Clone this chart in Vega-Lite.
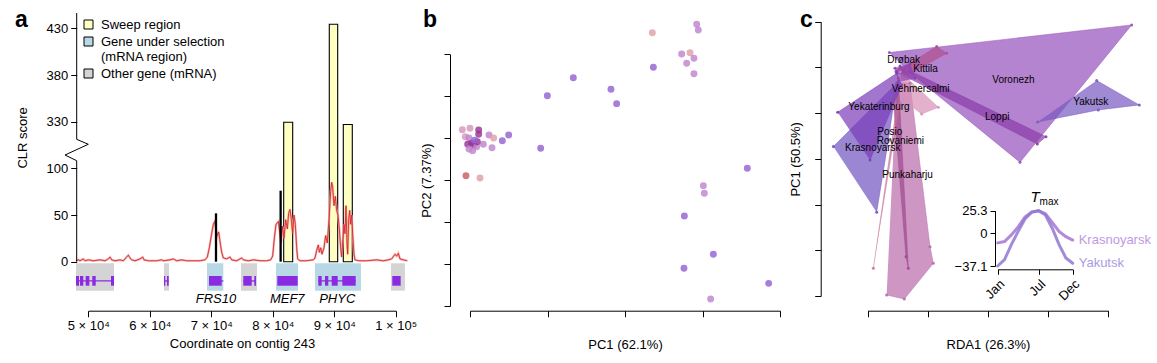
{
 "$schema": "https://vega.github.io/schema/vega-lite/v6.json",
 "width": 1157, "height": 363, "autosize": {"type": "none"}, "padding": 0,
 "background": "white",
 "config": {
  "view": {"stroke": null},
  "axis": {"grid": false, "labelFont": "Liberation Sans, Arial, DejaVu Sans", "titleFont": "Liberation Sans, Arial", "labelFontSize": 13, "titleFontSize": 13, "titleFontWeight": "normal", "labelColor": "black", "titleColor": "black", "domainColor": "black", "tickColor": "black", "tickSize": 6, "labelPadding": 3, "labelFlush": false, "labelOverlap": false},
  "text": {"font": "Liberation Sans, Arial"}
 },
 "resolve": {"scale": {"x": "independent", "y": "independent", "fill": "independent", "color": "independent", "stroke": "independent"}, "axis": {"x": "independent", "y": "independent"}, "legend": {"fill": "independent", "color": "independent", "stroke": "independent"}},
 "layer": [
  {
   "data": {"values": [
    {"g": "g1", "kind": "Other gene (mRNA)", "s": 48000, "e": 54181},
    {"g": "g2", "kind": "Other gene (mRNA)", "s": 62313, "e": 63126},
    {"g": "FRS10", "kind": "Gene under selection", "s": 69307, "e": 71958},
    {"g": "g4", "kind": "Other gene (mRNA)", "s": 74837, "e": 77439},
    {"g": "MEF7", "kind": "Gene under selection", "s": 80529, "e": 84107},
    {"g": "PHYC", "kind": "Gene under selection", "s": 86866, "e": 94348},
    {"g": "g7", "kind": "Other gene (mRNA)", "s": 99228, "e": 101505}
   ]},
   "mark": {"type": "rect"},
   "encoding": {
    "x": {"field": "s", "type": "quantitative", "scale": {"domain": [50000, 100000], "range": [88.3, 395.7], "nice": false, "zero": false},
     "axis": {"orient": "bottom", "offset": -52.3, "values": [50000, 60000, 70000, 80000, 90000, 100000], "labelExpr": "datum.value == 100000 ? '1 × 10⁵' : (datum.value/10000) + ' × 10⁴'", "title": "Coordinate on contig 243", "titlePadding": 5}},
    "x2": {"field": "e"},
    "y": {"datum": -1.7, "type": "quantitative", "scale": {"domain": [0, 100, 330, 446.4], "range": [261.7, 168.3, 121.7, 13], "nice": false, "zero": false},
     "axis": {"orient": "left", "offset": -76.7, "values": [0, 50, 100, 330, 380, 430], "domain": false, "title": "CLR score", "titlePadding": 17}},
    "y2": {"datum": -31},
    "fill": {"field": "kind", "type": "nominal", "scale": {"domain": ["Sweep region", "Gene under selection", "Other gene (mRNA)"], "range": ["#ffffc2", "#b8d8e6", "#d4d4d4"]}, "legend": null}
   }
  },
  {
   "data": {"values": [
    {"s": 48000, "e": 54181}, {"s": 62313, "e": 63077}, {"s": 69632, "e": 71958}, {"s": 75211, "e": 77276}, {"s": 87409, "e": 93492}
   ]},
   "mark": {"type": "rule", "color": "#8a2be2", "strokeWidth": 1.3},
   "encoding": {
    "x": {"field": "s", "type": "quantitative", "scale": {"domain": [50000, 100000], "range": [88.3, 395.7], "nice": false, "zero": false}, "axis": null},
    "x2": {"field": "e"},
    "y": {"datum": -20.6, "type": "quantitative", "scale": {"domain": [0, 100, 330, 446.4], "range": [261.7, 168.3, 121.7, 13], "nice": false, "zero": false}, "axis": null}
   }
  },
  {
   "data": {"values": [
    {"s": 48000, "e": 48488}, {"s": 48650, "e": 49187}, {"s": 49577, "e": 50163}, {"s": 50651, "e": 51204}, {"s": 53692, "e": 54181},
    {"s": 62313, "e": 62524}, {"s": 62801, "e": 63077},
    {"s": 69632, "e": 71697},
    {"s": 75211, "e": 76577}, {"s": 76999, "e": 77276},
    {"s": 80741, "e": 84059},
    {"s": 87409, "e": 87962}, {"s": 88500, "e": 89036}, {"s": 89589, "e": 90565}, {"s": 91313, "e": 93492},
    {"s": 99445, "e": 100811}
   ]},
   "mark": {"type": "rect", "color": "#8a2be2"},
   "encoding": {
    "x": {"field": "s", "type": "quantitative", "scale": {"domain": [50000, 100000], "range": [88.3, 395.7], "nice": false, "zero": false}, "axis": null},
    "x2": {"field": "e"},
    "y": {"datum": -15.3, "type": "quantitative", "scale": {"domain": [0, 100, 330, 446.4], "range": [261.7, 168.3, 121.7, 13], "nice": false, "zero": false}, "axis": null},
    "y2": {"datum": -25.7}
   }
  },
  {
   "data": {"values": [
    {"kind": "Sweep region", "s": 81782, "e": 83245, "clr": 327.2},
    {"kind": "Sweep region", "s": 89198, "e": 90565, "clr": 434.3},
    {"kind": "Sweep region", "s": 91476, "e": 92940, "clr": 316.5}
   ]},
   "mark": {"type": "rect", "stroke": "black", "strokeWidth": 1.1},
   "encoding": {
    "x": {"field": "s", "type": "quantitative", "scale": {"domain": [50000, 100000], "range": [88.3, 395.7], "nice": false, "zero": false}, "axis": null},
    "x2": {"field": "e"},
    "y": {"field": "clr", "type": "quantitative", "scale": {"domain": [0, 100, 330, 446.4], "range": [261.7, 168.3, 121.7, 13], "nice": false, "zero": false}, "axis": null},
    "y2": {"datum": 0},
    "fill": {"field": "kind", "type": "nominal", "scale": {"domain": ["Sweep region", "Gene under selection", "Other gene (mRNA)"], "range": ["#ffffc2", "#b8d8e6", "#d4d4d4"]},
     "legend": {"orient": "none", "legendX": 82, "legendY": 18, "title": null, "symbolType": "square", "symbolSize": 81, "symbolStrokeColor": "black", "symbolStrokeWidth": 1, "labelFont": "Liberation Sans, Arial", "labelFontSize": 13, "labelColor": "black", "labelOffset": 6, "rowPadding": 3, "padding": 0, "labelLimit": 0,
      "labelExpr": "datum.label == 'Gene under selection' ? ['Gene under selection', '(mRNA region)'] : datum.label"}}
   }
  },
  {
   "data": {"name": "clr"},
   "mark": {"type": "line", "color": "#f2a2a2", "strokeWidth": 2.2, "opacity": 0.85},
   "encoding": {
    "x": {"field": "pos", "type": "quantitative", "scale": {"domain": [50000, 100000], "range": [88.3, 395.7], "nice": false, "zero": false}, "axis": null},
    "y": {"field": "clr", "type": "quantitative", "scale": {"domain": [0, 100, 330, 446.4], "range": [261.7, 168.3, 121.7, 13], "nice": false, "zero": false}, "axis": null}
   }
  },
  {
   "data": {"name": "clr"},
   "mark": {"type": "line", "color": "#d81c1c", "strokeWidth": 0.8},
   "encoding": {
    "x": {"field": "pos", "type": "quantitative", "scale": {"domain": [50000, 100000], "range": [88.3, 395.7], "nice": false, "zero": false}, "axis": null},
    "y": {"field": "clr", "type": "quantitative", "scale": {"domain": [0, 100, 330, 446.4], "range": [261.7, 168.3, 121.7, 13], "nice": false, "zero": false}, "axis": null}
   }
  },
  {
   "data": {"values": [{"pos": 70770, "clr": 51.8}, {"pos": 81284, "clr": 76}]},
   "mark": {"type": "rule", "color": "black", "strokeWidth": 2.3},
   "encoding": {
    "x": {"field": "pos", "type": "quantitative", "scale": {"domain": [50000, 100000], "range": [88.3, 395.7], "nice": false, "zero": false}, "axis": null},
    "y": {"field": "clr", "type": "quantitative", "scale": {"domain": [0, 100, 330, 446.4], "range": [261.7, 168.3, 121.7, 13], "nice": false, "zero": false}, "axis": null},
    "y2": {"datum": 0}
   }
  },
  {
   "data": {"values": [
    {"i": 0, "pos": 48113, "clr": 0}, {"i": 1, "pos": 48113, "clr": 137.5}, {"i": 2, "pos": 46210, "clr": 165.6},
    {"i": 3, "pos": 50000, "clr": 218.5}, {"i": 4, "pos": 48113, "clr": 243.1}, {"i": 5, "pos": 48113, "clr": 446.4}
   ]},
   "mark": {"type": "line", "color": "black", "strokeWidth": 1},
   "encoding": {
    "x": {"field": "pos", "type": "quantitative", "scale": {"domain": [50000, 100000], "range": [88.3, 395.7], "nice": false, "zero": false}, "axis": null},
    "y": {"field": "clr", "type": "quantitative", "scale": {"domain": [0, 100, 330, 446.4], "range": [261.7, 168.3, 121.7, 13], "nice": false, "zero": false}, "axis": null},
    "order": {"field": "i"}
   }
  },
  {
   "data": {"values": [{"name": "FRS10", "pos": 70764}, {"name": "MEF7", "pos": 82357}, {"name": "PHYC", "pos": 90487}]},
   "mark": {"type": "text", "fontSize": 13, "fontStyle": "italic", "baseline": "middle", "color": "black"},
   "encoding": {
    "x": {"field": "pos", "type": "quantitative", "scale": {"domain": [50000, 100000], "range": [88.3, 395.7], "nice": false, "zero": false}, "axis": null},
    "y": {"datum": -40, "type": "quantitative", "scale": {"domain": [0, 100, 330, 446.4], "range": [261.7, 168.3, 121.7, 13], "nice": false, "zero": false}, "axis": null},
    "text": {"field": "name"}
   }
  },
  {
   "data": {"values": [{"letter": "a"}]},
   "mark": {"type": "text", "fontSize": 23, "fontWeight": "bold", "align": "left", "baseline": "alphabetic", "color": "black"},
   "encoding": {
    "x": {"datum": 38078, "type": "quantitative", "scale": {"domain": [50000, 100000], "range": [88.3, 395.7], "nice": false, "zero": false}, "axis": null},
    "y": {"datum": 431.4, "type": "quantitative", "scale": {"domain": [0, 100, 330, 446.4], "range": [261.7, 168.3, 121.7, 13], "nice": false, "zero": false}, "axis": null},
    "text": {"field": "letter"}
   }
  },
  {
   "data": {"values": [
    {"x": 2.353, "y": 6.515, "g": "S"}, {"x": 2.925, "y": 6.715, "g": "M"}, {"x": 2.946, "y": 6.579, "g": "M"},
    {"x": 2.366, "y": 5.690, "g": "P"}, {"x": 2.731, "y": 6.007, "g": "M"}, {"x": 2.839, "y": 6.038, "g": "S"},
    {"x": 2.890, "y": 5.905, "g": "M"}, {"x": 2.796, "y": 5.785, "g": "M"}, {"x": 2.890, "y": 5.538, "g": "M"},
    {"x": 1.333, "y": 5.443, "g": "P"}, {"x": 0.998, "y": 5.014, "g": "P"}, {"x": 1.819, "y": 5.165, "g": "P"},
    {"x": 1.892, "y": 4.824, "g": "P"}, {"x": 0.912, "y": 3.759, "g": "P"}, {"x": 0.499, "y": 4.076, "g": "P"},
    {"x": 0.417, "y": 3.941, "g": "P"}, {"x": 0.245, "y": 4.076, "g": "M"}, {"x": 0.305, "y": 4.005, "g": "S"},
    {"x": 0.284, "y": 3.774, "g": "M"}, {"x": 0.172, "y": 3.855, "g": "M"}, {"x": -0.099, "y": 4.203, "g": "K"},
    {"x": 0.0, "y": 4.236, "g": "K"}, {"x": 0.112, "y": 4.196, "g": "D"}, {"x": 0.112, "y": 4.093, "g": "D"},
    {"x": -0.060, "y": 4.036, "g": "K"}, {"x": -0.013, "y": 4.005, "g": "M"}, {"x": 0.022, "y": 3.878, "g": "D"},
    {"x": 0.043, "y": 3.838, "g": "D"}, {"x": -0.030, "y": 3.855, "g": "D"}, {"x": 0.086, "y": 3.798, "g": "M"},
    {"x": -0.013, "y": 3.743, "g": "M"}, {"x": 0.034, "y": 3.703, "g": "M"}, {"x": 0.095, "y": 3.917, "g": "D"},
    {"x": 0.060, "y": 3.950, "g": "P"}, {"x": -0.052, "y": 3.107, "g": "R"}, {"x": 0.129, "y": 3.051, "g": "S"},
    {"x": 3.578, "y": 3.282, "g": "P"}, {"x": 3.011, "y": 2.869, "g": "M"}, {"x": 3.024, "y": 2.686, "g": "M"},
    {"x": 2.766, "y": 2.145, "g": "P"}, {"x": 3.140, "y": 1.232, "g": "P"}, {"x": 2.761, "y": 0.898, "g": "P"},
    {"x": 3.854, "y": 0.540, "g": "P"}, {"x": 3.105, "y": 0.167, "g": "M"}
   ]},
   "mark": {"type": "circle", "size": 48, "opacity": 0.82},
   "encoding": {
    "x": {"field": "x", "type": "quantitative", "scale": {"domain": [0, 4], "range": [470, 780], "nice": false, "zero": false},
     "axis": {"orient": "bottom", "offset": -52.3, "values": [0, 1, 2, 3, 4], "labels": false, "title": "PC1 (62.1%)", "titlePadding": 21}},
    "y": {"field": "y", "type": "quantitative", "scale": {"domain": [0, 6], "range": [306, 54.3], "nice": false, "zero": false},
     "axis": {"orient": "left", "offset": -450, "values": [0, 1, 2, 3, 4, 5, 6], "labels": false, "title": "PC2 (7.37%)", "titlePadding": 10}},
    "color": {"field": "g", "type": "nominal", "scale": {"domain": ["P", "M", "K", "S", "D", "R"], "range": ["#9462d2", "#c084cf", "#d496bc", "#dea0a6", "#993594", "#c85e62"]}, "legend": null}
   }
  },
  {
   "data": {"values": [{"letter": "b"}]},
   "mark": {"type": "text", "fontSize": 23, "fontWeight": "bold", "align": "left", "baseline": "alphabetic", "color": "black"},
   "encoding": {
    "x": {"datum": -0.606, "type": "quantitative", "scale": {"domain": [0, 4], "range": [470, 780], "nice": false, "zero": false}, "axis": null},
    "y": {"datum": 6.658, "type": "quantitative", "scale": {"domain": [0, 6], "range": [306, 54.3], "nice": false, "zero": false}, "axis": null},
    "text": {"field": "letter"}
   }
  },
  {
   "data": {"name": "poly"},
   "mark": {"type": "line", "fillOpacity": 0.7, "strokeWidth": 0.8, "strokeOpacity": 0.6},
   "encoding": {
    "x": {"field": "x", "type": "quantitative", "scale": {"domain": [0, 4], "range": [867.7, 1108.3], "nice": false, "zero": false},
     "axis": {"orient": "bottom", "offset": -52.3, "values": [0, 1, 2, 3, 4], "labels": false, "title": "RDA1 (26.3%)", "titlePadding": 21}},
    "y": {"field": "y", "type": "quantitative", "scale": {"domain": [0, 6], "range": [296, 21.7], "nice": false, "zero": false},
     "axis": {"orient": "left", "offset": -820.7, "values": [0, 1, 2, 3, 4, 5, 6], "labels": false, "title": "PC1 (50.5%)", "titlePadding": 12}},
    "detail": {"field": "pop"},
    "order": {"field": "i"},
    "fill": {"field": "pop", "type": "nominal", "scale": {"domain": ["Voronezh", "Yakutsk", "Loppi", "Punkaharju", "Posio", "Rovaniemi", "Krasnoyarsk", "Yekaterinburg", "Vehmersalmi", "Kittila", "Drøbak"], "range": ["#9550bc", "#7858c0", "#8a3aa8", "#b86aaa", "#a04890", "#c87098", "#7052c0", "#7a3cb8", "#d890b8", "#b0508f", "#8a40b0"]}, "legend": null},
    "stroke": {"field": "pop", "type": "nominal", "scale": {"domain": ["Voronezh", "Yakutsk", "Loppi", "Punkaharju", "Posio", "Rovaniemi", "Krasnoyarsk", "Yekaterinburg", "Vehmersalmi", "Kittila", "Drøbak"], "range": ["#9550bc", "#7858c0", "#8a3aa8", "#b86aaa", "#a04890", "#c87098", "#7052c0", "#7a3cb8", "#d890b8", "#b0508f", "#8a40b0"]}, "legend": null}
   }
  },
  {
   "data": {"name": "poly"},
   "mark": {"type": "circle", "size": 9, "opacity": 0.9},
   "encoding": {
    "x": {"field": "x", "type": "quantitative", "scale": {"domain": [0, 4], "range": [867.7, 1108.3], "nice": false, "zero": false}, "axis": null},
    "y": {"field": "y", "type": "quantitative", "scale": {"domain": [0, 6], "range": [296, 21.7], "nice": false, "zero": false}, "axis": null},
    "fill": {"field": "pop", "type": "nominal", "scale": {"domain": ["Voronezh", "Yakutsk", "Loppi", "Punkaharju", "Posio", "Rovaniemi", "Krasnoyarsk", "Yekaterinburg", "Vehmersalmi", "Kittila", "Drøbak"], "range": ["#9550bc", "#7858c0", "#8a3aa8", "#b86aaa", "#a04890", "#c87098", "#7052c0", "#7a3cb8", "#d890b8", "#b0508f", "#8a40b0"]}, "legend": null}
   }
  },
  {
   "data": {"values": [
    {"name": "Drøbak", "x": 0.326, "y": 5.164}, {"name": "Kittila", "x": 0.758, "y": 4.961},
    {"name": "Vehmersalmi", "x": 0.399, "y": 4.523}, {"name": "Yekaterinburg", "x": -0.322, "y": 4.129},
    {"name": "Posio", "x": 0.160, "y": 3.582}, {"name": "Rovaniemi", "x": 0.150, "y": 3.392},
    {"name": "Krasnoyarsk", "x": -0.377, "y": 3.232}, {"name": "Punkaharju", "x": 0.243, "y": 2.648},
    {"name": "Voronezh", "x": 2.072, "y": 4.726}, {"name": "Loppi", "x": 1.950, "y": 3.923},
    {"name": "Yakutsk", "x": 3.419, "y": 4.252}
   ]},
   "mark": {"type": "text", "fontSize": 10, "align": "left", "baseline": "middle", "color": "black"},
   "encoding": {
    "x": {"field": "x", "type": "quantitative", "scale": {"domain": [0, 4], "range": [867.7, 1108.3], "nice": false, "zero": false}, "axis": null},
    "y": {"field": "y", "type": "quantitative", "scale": {"domain": [0, 6], "range": [296, 21.7], "nice": false, "zero": false}, "axis": null},
    "text": {"field": "name"}
   }
  },
  {
   "data": {"values": [{"letter": "c"}]},
   "mark": {"type": "text", "fontSize": 23, "fontWeight": "bold", "align": "left", "baseline": "alphabetic", "color": "black"},
   "encoding": {
    "x": {"datum": -1.126, "type": "quantitative", "scale": {"domain": [0, 4], "range": [867.7, 1108.3], "nice": false, "zero": false}, "axis": null},
    "y": {"datum": 5.886, "type": "quantitative", "scale": {"domain": [0, 6], "range": [296, 21.7], "nice": false, "zero": false}, "axis": null},
    "text": {"field": "letter"}
   }
  },
  {
   "data": {"name": "tmax"},
   "mark": {"type": "line", "strokeWidth": 3, "opacity": 0.85, "strokeCap": "round"},
   "encoding": {
    "x": {"field": "m", "type": "quantitative", "scale": {"domain": [1, 12], "range": [997.7, 1072.7], "nice": false, "zero": false},
     "axis": {"orient": "bottom", "offset": -93.7, "values": [1, 7, 12], "labelExpr": "datum.value == 1 ? 'Jan' : datum.value == 7 ? 'Jul' : 'Dec'", "labelAngle": -45, "title": null, "tickSize": 5}},
    "y": {"field": "t", "type": "quantitative", "scale": {"domain": [-37.1, 25.3], "range": [266, 210.7], "nice": false, "zero": false},
     "axis": {"orient": "left", "offset": -995, "values": [-37.1, 0, 25.3], "labelExpr": "datum.value < 0 ? '−37.1' : datum.value == 0 ? '0' : '25.3'", "title": null, "tickSize": 5}},
    "color": {"field": "city", "type": "nominal", "scale": {"domain": ["Krasnoyarsk", "Yakutsk"], "range": ["#a676d4", "#9079d0"]}, "legend": null}
   }
  },
  {
   "data": {"name": "tmax"},
   "transform": [{"filter": "datum.m == 12"}],
   "mark": {"type": "text", "fontSize": 13, "align": "left", "baseline": "middle", "dx": 6, "opacity": 0.85},
   "encoding": {
    "x": {"field": "m", "type": "quantitative", "scale": {"domain": [1, 12], "range": [997.7, 1072.7], "nice": false, "zero": false}, "axis": null},
    "y": {"field": "t", "type": "quantitative", "scale": {"domain": [-37.1, 25.3], "range": [266, 210.7], "nice": false, "zero": false}, "axis": null},
    "text": {"field": "city"},
    "color": {"field": "city", "type": "nominal", "scale": {"domain": ["Krasnoyarsk", "Yakutsk"], "range": ["#b488dc", "#9c8ade"]}, "legend": null}
   }
  },
  {
   "data": {"values": [{"s": "T"}]},
   "mark": {"type": "text", "fontSize": 15, "fontStyle": "italic", "align": "right", "baseline": "middle", "dy": -14, "dx": 1, "color": "black"},
   "encoding": {
    "x": {"datum": 7, "type": "quantitative", "scale": {"domain": [1, 12], "range": [997.7, 1072.7], "nice": false, "zero": false}, "axis": null},
    "y": {"datum": 25.3, "type": "quantitative", "scale": {"domain": [-37.1, 25.3], "range": [266, 210.7], "nice": false, "zero": false}, "axis": null},
    "text": {"field": "s"}
   }
  },
  {
   "data": {"values": [{"s": "max"}]},
   "mark": {"type": "text", "fontSize": 10, "align": "left", "baseline": "middle", "dy": -9, "dx": 1, "color": "black"},
   "encoding": {
    "x": {"datum": 7, "type": "quantitative", "scale": {"domain": [1, 12], "range": [997.7, 1072.7], "nice": false, "zero": false}, "axis": null},
    "y": {"datum": 25.3, "type": "quantitative", "scale": {"domain": [-37.1, 25.3], "range": [266, 210.7], "nice": false, "zero": false}, "axis": null},
    "text": {"field": "s"}
   }
  }
 ],
 "datasets": {
  "clr": [
   {"pos": 47999, "clr": 1}, {"pos": 48379, "clr": 2}, {"pos": 48650, "clr": 1}, {"pos": 49192, "clr": 3}, {"pos": 49463, "clr": 1},
   {"pos": 50006, "clr": 2}, {"pos": 50819, "clr": 1}, {"pos": 51903, "clr": 2}, {"pos": 52716, "clr": 1}, {"pos": 53259, "clr": 3},
   {"pos": 53530, "clr": 5}, {"pos": 53801, "clr": 2}, {"pos": 54343, "clr": 1}, {"pos": 55156, "clr": 2}, {"pos": 55698, "clr": 1},
   {"pos": 56240, "clr": 5}, {"pos": 56512, "clr": 7}, {"pos": 56783, "clr": 4}, {"pos": 57054, "clr": 2}, {"pos": 57596, "clr": 1},
   {"pos": 58409, "clr": 3}, {"pos": 58843, "clr": 5}, {"pos": 59060, "clr": 2}, {"pos": 59765, "clr": 1}, {"pos": 61120, "clr": 1},
   {"pos": 61933, "clr": 2}, {"pos": 62204, "clr": 1}, {"pos": 63289, "clr": 2}, {"pos": 63831, "clr": 3}, {"pos": 64373, "clr": 1},
   {"pos": 65186, "clr": 2}, {"pos": 66000, "clr": 1}, {"pos": 67084, "clr": 1}, {"pos": 68168, "clr": 1}, {"pos": 68981, "clr": 2},
   {"pos": 69361, "clr": 5}, {"pos": 69687, "clr": 15}, {"pos": 70066, "clr": 30}, {"pos": 70337, "clr": 40}, {"pos": 70554, "clr": 43},
   {"pos": 70771, "clr": 35}, {"pos": 70987, "clr": 28}, {"pos": 71204, "clr": 32}, {"pos": 71421, "clr": 22}, {"pos": 71692, "clr": 10},
   {"pos": 71963, "clr": 4}, {"pos": 72506, "clr": 3}, {"pos": 73048, "clr": 5}, {"pos": 73319, "clr": 2}, {"pos": 74132, "clr": 1},
   {"pos": 74945, "clr": 4}, {"pos": 75216, "clr": 2}, {"pos": 76030, "clr": 1}, {"pos": 76843, "clr": 2}, {"pos": 77927, "clr": 1},
   {"pos": 79012, "clr": 1}, {"pos": 79662, "clr": 2}, {"pos": 79987, "clr": 6}, {"pos": 80259, "clr": 25}, {"pos": 80530, "clr": 40},
   {"pos": 80909, "clr": 43}, {"pos": 81180, "clr": 30}, {"pos": 81343, "clr": 20}, {"pos": 81560, "clr": 38}, {"pos": 81831, "clr": 25},
   {"pos": 82102, "clr": 45}, {"pos": 82373, "clr": 35}, {"pos": 82590, "clr": 52}, {"pos": 82807, "clr": 56}, {"pos": 83024, "clr": 45},
   {"pos": 83241, "clr": 30}, {"pos": 83457, "clr": 50}, {"pos": 83674, "clr": 40}, {"pos": 83891, "clr": 15}, {"pos": 84054, "clr": 3},
   {"pos": 84433, "clr": 1}, {"pos": 85517, "clr": 1}, {"pos": 86602, "clr": 2}, {"pos": 86873, "clr": 4}, {"pos": 87144, "clr": 12},
   {"pos": 87415, "clr": 18}, {"pos": 87578, "clr": 10}, {"pos": 87795, "clr": 15}, {"pos": 88012, "clr": 8}, {"pos": 88337, "clr": 15},
   {"pos": 88608, "clr": 28}, {"pos": 88879, "clr": 20}, {"pos": 89150, "clr": 45}, {"pos": 89421, "clr": 75}, {"pos": 89584, "clr": 85},
   {"pos": 89747, "clr": 80}, {"pos": 89964, "clr": 60}, {"pos": 90180, "clr": 70}, {"pos": 90397, "clr": 55}, {"pos": 90614, "clr": 50},
   {"pos": 90831, "clr": 35}, {"pos": 91048, "clr": 15}, {"pos": 91210, "clr": 5}, {"pos": 91373, "clr": 20}, {"pos": 91590, "clr": 40},
   {"pos": 91753, "clr": 30}, {"pos": 91915, "clr": 60}, {"pos": 92078, "clr": 20}, {"pos": 92186, "clr": 8}, {"pos": 92349, "clr": 45},
   {"pos": 92512, "clr": 55}, {"pos": 92674, "clr": 40}, {"pos": 92837, "clr": 50}, {"pos": 93000, "clr": 30}, {"pos": 93217, "clr": 8},
   {"pos": 93379, "clr": 2}, {"pos": 93921, "clr": 1}, {"pos": 95277, "clr": 1}, {"pos": 96903, "clr": 2}, {"pos": 97988, "clr": 1},
   {"pos": 98801, "clr": 2}, {"pos": 99343, "clr": 3}, {"pos": 99885, "clr": 8}, {"pos": 100156, "clr": 6}, {"pos": 100427, "clr": 9},
   {"pos": 100698, "clr": 3}, {"pos": 101240, "clr": 2}, {"pos": 101891, "clr": 1}
  ],
  "poly": [
   {"pop": "Voronezh", "i": 0, "x": 0.360, "y": 5.325}, {"pop": "Voronezh", "i": 1, "x": 4.389, "y": 5.930}, {"pop": "Voronezh", "i": 2, "x": 2.532, "y": 2.925}, {"pop": "Voronezh", "i": 3, "x": 0.648, "y": 4.945},
   {"pop": "Yakutsk", "i": 0, "x": 3.807, "y": 4.712}, {"pop": "Yakutsk", "i": 1, "x": 4.516, "y": 4.179}, {"pop": "Yakutsk", "i": 2, "x": 3.834, "y": 4.070}, {"pop": "Yakutsk", "i": 3, "x": 2.826, "y": 3.807},
   {"pop": "Loppi", "i": 0, "x": 0.537, "y": 5.033}, {"pop": "Loppi", "i": 1, "x": 2.964, "y": 3.486}, {"pop": "Loppi", "i": 2, "x": 2.820, "y": 3.326}, {"pop": "Loppi", "i": 3, "x": 0.470, "y": 4.909},
   {"pop": "Punkaharju", "i": 0, "x": 0.482, "y": 4.690}, {"pop": "Punkaharju", "i": 1, "x": 0.703, "y": 4.654}, {"pop": "Punkaharju", "i": 2, "x": 1.036, "y": 1.079}, {"pop": "Punkaharju", "i": 3, "x": 1.091, "y": 0.715}, {"pop": "Punkaharju", "i": 4, "x": 0.609, "y": -0.066}, {"pop": "Punkaharju", "i": 5, "x": 0.315, "y": 0.022},
   {"pop": "Posio", "i": 0, "x": 0.509, "y": 4.763}, {"pop": "Posio", "i": 1, "x": 0.675, "y": 0.606}, {"pop": "Posio", "i": 2, "x": 0.637, "y": 0.861}, {"pop": "Posio", "i": 3, "x": 0.426, "y": 4.289},
   {"pop": "Rovaniemi", "i": 0, "x": 0.094, "y": 0.606}, {"pop": "Rovaniemi", "i": 1, "x": 0.482, "y": 4.143}, {"pop": "Rovaniemi", "i": 2, "x": 0.537, "y": 4.216},
   {"pop": "Krasnoyarsk", "i": 0, "x": -0.571, "y": 3.268}, {"pop": "Krasnoyarsk", "i": 1, "x": 0.482, "y": 4.654}, {"pop": "Krasnoyarsk", "i": 2, "x": 0.343, "y": 3.414}, {"pop": "Krasnoyarsk", "i": 3, "x": 0.149, "y": 1.831},
   {"pop": "Yekaterinburg", "i": 0, "x": -0.499, "y": 4.019}, {"pop": "Yekaterinburg", "i": 1, "x": 0.482, "y": 4.872}, {"pop": "Yekaterinburg", "i": 2, "x": 0.565, "y": 4.617}, {"pop": "Yekaterinburg", "i": 3, "x": 0.038, "y": 2.976},
   {"pop": "Vehmersalmi", "i": 0, "x": 0.537, "y": 4.909}, {"pop": "Vehmersalmi", "i": 1, "x": 1.174, "y": 4.128}, {"pop": "Vehmersalmi", "i": 2, "x": 0.897, "y": 3.982}, {"pop": "Vehmersalmi", "i": 3, "x": 0.592, "y": 4.289},
   {"pop": "Kittila", "i": 0, "x": 0.526, "y": 4.945}, {"pop": "Kittila", "i": 1, "x": 1.147, "y": 5.456}, {"pop": "Kittila", "i": 2, "x": 1.313, "y": 5.310}, {"pop": "Kittila", "i": 3, "x": 0.637, "y": 4.814},
   {"pop": "Drøbak", "i": 0, "x": 0.454, "y": 4.982}, {"pop": "Drøbak", "i": 1, "x": 0.703, "y": 5.077}, {"pop": "Drøbak", "i": 2, "x": 0.786, "y": 4.763}, {"pop": "Drøbak", "i": 3, "x": 0.509, "y": 4.690}
  ],
  "tmax": [
   {"city": "Krasnoyarsk", "m": 1, "t": -11}, {"city": "Krasnoyarsk", "m": 2, "t": -9.5}, {"city": "Krasnoyarsk", "m": 3, "t": -2}, {"city": "Krasnoyarsk", "m": 4, "t": 7},
   {"city": "Krasnoyarsk", "m": 5, "t": 18}, {"city": "Krasnoyarsk", "m": 6, "t": 24}, {"city": "Krasnoyarsk", "m": 7, "t": 25.3}, {"city": "Krasnoyarsk", "m": 8, "t": 22},
   {"city": "Krasnoyarsk", "m": 9, "t": 12}, {"city": "Krasnoyarsk", "m": 10, "t": 2}, {"city": "Krasnoyarsk", "m": 11, "t": -4}, {"city": "Krasnoyarsk", "m": 12, "t": -7.8},
   {"city": "Yakutsk", "m": 1, "t": -37.1}, {"city": "Yakutsk", "m": 2, "t": -30}, {"city": "Yakutsk", "m": 3, "t": -13}, {"city": "Yakutsk", "m": 4, "t": 2},
   {"city": "Yakutsk", "m": 5, "t": 16}, {"city": "Yakutsk", "m": 6, "t": 23.5}, {"city": "Yakutsk", "m": 7, "t": 25.3}, {"city": "Yakutsk", "m": 8, "t": 20.5},
   {"city": "Yakutsk", "m": 9, "t": 5.5}, {"city": "Yakutsk", "m": 10, "t": -13}, {"city": "Yakutsk", "m": 11, "t": -28}, {"city": "Yakutsk", "m": 12, "t": -34}
  ]
 }
}
